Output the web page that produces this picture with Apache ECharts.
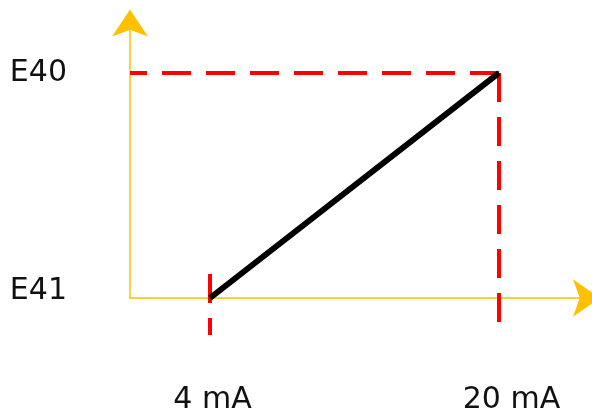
<!DOCTYPE html>
<html>
<head>
<meta charset="utf-8">
<script src="https://cdn.jsdelivr.net/npm/echarts@6/dist/echarts.min.js"></script>
<style>
  html, body { margin: 0; padding: 0; background: #fff; }
  #main { width: 592px; height: 416px; }
</style>
</head>
<body>
<div id="main"></div>
<script>
// 信号范围 4-20 mA 对应 E41-E40
const currentValues = [4, 20]
const levelValues = [0, 1]
const xTickValues = [4, 20]
const xTickLabels = ['4 mA', '20 mA']
const yTickValues = [0, 1]
const yTickLabels = ['E41', 'E40']

// 坐标轴范围
const xMin = -0.429
const xMax = 24.872
const yMin = 0
const yMax = 1.2244

// 辅助虚线（数据坐标）
const guideTop = [[20, 1], [xMin, 1]]
const guideRight = [[20, 1], [20, -0.107]]
const guideLeft = [[4, 0.107], [4, -0.164]]

const myChart = echarts.init(document.querySelector('#main'))

const axisColor = '#FFC000'
const fontFamily = 'DejaVu Sans'

myChart.setOption({
  animation: false,
  grid: {
    left: 130,
    right: 5,
    top: 22.5,
    bottom: 118
  },
  xAxis: {
    type: 'value',
    min: xMin,
    max: xMax,
    splitLine: { show: false },
    axisTick: { show: false },
    axisLine: {
      onZero: false,
      lineStyle: { color: axisColor, width: 1.5 },
      symbol: ['none', 'arrow'],
      symbolSize: [28, 27],
      symbolOffset: [0, 13]
    },
    axisLabel: {
      customValues: xTickValues,
      margin: 102,
      verticalAlign: 'middle',
      formatter: value => {
        const label = xTickLabels[xTickValues.indexOf(value)]
        return value === 20 ? '{b|' + label + '}' : '{a|' + label + '}'
      },
      rich: {
        a: { fontSize: 30, fontFamily: fontFamily, color: '#111', padding: [0, 0, 0, 5] },
        b: { fontSize: 30, fontFamily: fontFamily, color: '#111', padding: [0, 0, 0, 25] }
      }
    }
  },
  yAxis: {
    type: 'value',
    min: yMin,
    max: yMax,
    splitLine: { show: false },
    axisTick: { show: false },
    axisLine: {
      onZero: false,
      lineStyle: { color: axisColor, width: 1.5 },
      symbol: ['none', 'arrow'],
      symbolSize: [27, 27],
      symbolOffset: [0, 13]
    },
    axisLabel: {
      customValues: yTickValues,
      margin: 63,
      formatter: value => {
        const label = yTickLabels[yTickValues.indexOf(value)]
        return value === 0 ? '{b|' + label + '}' : '{a|' + label + '}'
      },
      rich: {
        a: { fontSize: 30, fontFamily: fontFamily, color: '#111' },
        b: { fontSize: 30, fontFamily: fontFamily, color: '#111', padding: [0, 0, 13, 0] }
      }
    }
  },
  series: [
    {
      name: 'guideTop',
      type: 'line',
      data: guideTop,
      showSymbol: false,
      clip: false,
      silent: true,
      lineStyle: { color: '#FF0000', width: 4, type: [29, 15] }
    },
    {
      name: 'guideRight',
      type: 'line',
      data: guideRight,
      showSymbol: false,
      clip: false,
      silent: true,
      lineStyle: { color: '#FF0000', width: 4, type: [29, 15] }
    },
    {
      name: 'guideLeft',
      type: 'line',
      data: guideLeft,
      showSymbol: false,
      clip: false,
      silent: true,
      lineStyle: { color: '#FF0000', width: 4, type: [29, 15] }
    },
    {
      name: 'signal',
      type: 'line',
      data: currentValues.map((c, i) => [c, levelValues[i]]),
      showSymbol: false,
      clip: false,
      silent: true,
      z: 5,
      lineStyle: { color: '#000', width: 6 }
    }
  ]
})
</script>
</body>
</html>
